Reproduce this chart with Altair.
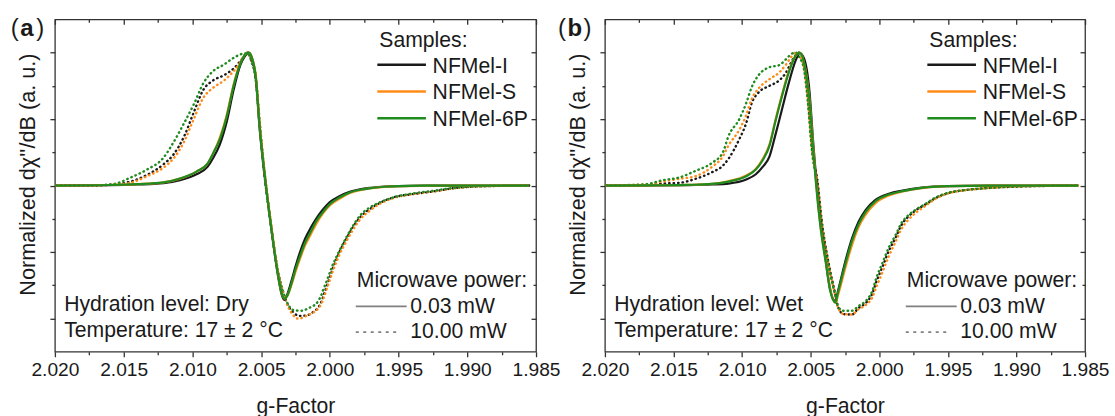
import altair as alt
import pandas as pd

FONT = "Liberation Sans"
TEXT_COLOR = "#1a1a1a"
FRAME_COLOR = "#333333"

SAMPLES = ["NFMel-I", "NFMel-S", "NFMel-6P"]
SAMPLE_COLORS = ["#1a1a1a", "#ff8c1a", "#1f8c1f"]
POWERS = ["0.03 mW", "10.00 mW"]

X_TICKS = [2.020, 2.0175, 2.015, 2.0125, 2.010, 2.0075, 2.005, 2.0025, 2.000,
           1.9975, 1.995, 1.9925, 1.990, 1.9875, 1.985]
Y_TICKS = [-1.0, -0.75, -0.5, -0.25, 0.0, 0.25, 0.5, 0.75, 1.0]

# ---------------- Panel (a): Dry ----------------
G_A_SOLID = [2.0199, 2.0160, 2.0140, 2.0121, 2.0109, 2.0097, 2.0089, 2.0085, 2.0080, 2.0075,
             2.0070, 2.0065, 2.0062, 2.0059, 2.0056, 2.0054, 2.0051, 2.0048, 2.0046, 2.0042,
             2.0038, 2.0035, 2.0033, 2.0031, 2.0028, 2.0025, 2.0022, 2.0018, 2.0014, 2.0010,
             2.0005, 2.0000, 1.9993, 1.9985, 1.9978, 1.9970, 1.9960, 1.9950, 1.9930, 1.9900,
             1.9855]
A_SOLID_I = [0, 0.003, 0.008, 0.018, 0.04, 0.085, 0.14, 0.205, 0.31, 0.48,
             0.72, 0.91, 0.97, 1.0, 0.93, 0.82, 0.42, 0.12, -0.05, -0.37,
             -0.66, -0.82, -0.86, -0.82, -0.72, -0.61, -0.51, -0.40, -0.32, -0.25,
             -0.18, -0.125, -0.08, -0.045, -0.028, -0.017, -0.008, -0.004, -0.001, 0,
             0]
A_SOLID_S = [0, 0.004, 0.01, 0.024, 0.052, 0.105, 0.165, 0.24, 0.36, 0.53,
             0.76, 0.93, 0.98, 1.0, 0.94, 0.84, 0.45, 0.15, -0.03, -0.35,
             -0.64, -0.81, -0.85, -0.83, -0.75, -0.65, -0.56, -0.45, -0.37, -0.29,
             -0.21, -0.15, -0.10, -0.055, -0.035, -0.02, -0.01, -0.005, -0.002, 0,
             0]
A_SOLID_6P = [0, 0.004, 0.011, 0.024, 0.053, 0.105, 0.165, 0.24, 0.35, 0.52,
              0.75, 0.92, 0.98, 1.0, 0.94, 0.83, 0.44, 0.14, -0.04, -0.36,
              -0.65, -0.81, -0.85, -0.83, -0.74, -0.63, -0.54, -0.43, -0.35, -0.27,
              -0.20, -0.14, -0.09, -0.05, -0.032, -0.019, -0.009, -0.004, -0.001, 0,
              0]

G_A_DOT = [2.0199, 2.0170, 2.0157, 2.0145, 2.0133, 2.0121, 2.0114, 2.0106, 2.0099, 2.0092,
           2.0085, 2.0077, 2.0070, 2.0064, 2.0060, 2.0057, 2.0054, 2.0051, 2.0048, 2.0045,
           2.0042, 2.0039, 2.0034, 2.0030, 2.0027, 2.0024, 2.0022, 2.0019, 2.0017, 2.0015,
           2.0012, 2.0010, 2.0008, 2.0006, 2.0005, 2.0002, 1.9998, 1.9993, 1.9988, 1.9983,
           1.9978, 1.9971, 1.9964, 1.9954, 1.9940, 1.9925, 1.9910, 1.9890, 1.9855]
A_DOT_I = [0, 0.002, 0.008, 0.03, 0.08, 0.16, 0.23, 0.37, 0.55, 0.72,
           0.79, 0.83, 0.88, 0.95, 1.0, 0.94, 0.82, 0.47, 0.14, -0.12,
           -0.36, -0.57, -0.80, -0.91, -0.95, -0.975, -0.98, -0.98, -0.975, -0.97,
           -0.95, -0.935, -0.91, -0.87, -0.84, -0.75, -0.63, -0.50, -0.40, -0.31,
           -0.24, -0.178, -0.133, -0.09, -0.065, -0.045, -0.02, -0.006, 0]
A_DOT_S = [0, 0.002, 0.006, 0.02, 0.07, 0.135, 0.20, 0.33, 0.50, 0.66,
           0.735, 0.79, 0.86, 0.94, 1.0, 0.95, 0.83, 0.48, 0.15, -0.11,
           -0.35, -0.57, -0.80, -0.92, -0.97, -1.0, -1.0, -0.99, -0.98, -0.97,
           -0.955, -0.94, -0.92, -0.885, -0.86, -0.77, -0.65, -0.52, -0.42, -0.33,
           -0.255, -0.19, -0.14, -0.095, -0.065, -0.045, -0.022, -0.007, 0]
A_DOT_6P = [0, 0.002, 0.012, 0.06, 0.12, 0.21, 0.32, 0.47, 0.61, 0.77,
            0.86, 0.91, 0.96, 0.99, 0.995, 0.93, 0.80, 0.45, 0.12, -0.14,
            -0.37, -0.58, -0.80, -0.90, -0.935, -0.94, -0.942, -0.94, -0.93, -0.92,
            -0.905, -0.89, -0.86, -0.82, -0.79, -0.71, -0.60, -0.49, -0.39, -0.30,
            -0.225, -0.165, -0.128, -0.09, -0.06, -0.04, -0.018, -0.005, 0]

# ---------------- Panel (b): Wet ----------------
G_B_SOLID = [2.0199, 2.0160, 2.0140, 2.0122, 2.0110, 2.0097, 2.0090, 2.0085, 2.0080, 2.0076,
             2.0071, 2.0066, 2.0061, 2.0058, 2.0055, 2.0051, 2.0048, 2.0046, 2.0043, 2.0039,
             2.0036, 2.0032, 2.0030, 2.0025, 2.0020, 2.0015, 2.0010, 2.0003, 1.9993, 1.9983,
             1.9969, 1.9950, 1.9920, 1.9855]
B_SOLID_I = [0, 0.001, 0.003, 0.008, 0.015, 0.045, 0.085, 0.14, 0.22, 0.37,
             0.57, 0.77, 0.94, 0.995, 0.96, 0.72, 0.30, 0.05, -0.26, -0.56,
             -0.77, -0.87, -0.79, -0.58, -0.40, -0.27, -0.185, -0.11, -0.062, -0.038,
             -0.015, -0.004, 0, 0]
B_SOLID_S = [0, 0.002, 0.005, 0.013, 0.032, 0.075, 0.125, 0.20, 0.31, 0.48,
             0.68, 0.86, 0.975, 1.0, 0.93, 0.66, 0.27, 0.02, -0.29, -0.57,
             -0.77, -0.88, -0.82, -0.63, -0.45, -0.31, -0.22, -0.135, -0.075, -0.045,
             -0.019, -0.005, 0, 0]
B_SOLID_6P = [0, 0.002, 0.005, 0.012, 0.03, 0.07, 0.12, 0.19, 0.30, 0.47,
              0.67, 0.85, 0.975, 1.0, 0.93, 0.65, 0.25, 0.0, -0.30, -0.58,
              -0.78, -0.88, -0.80, -0.60, -0.42, -0.29, -0.20, -0.12, -0.068, -0.042,
              -0.017, -0.004, 0, 0]

G_B_DOT = [2.0199, 2.0170, 2.0158, 2.0146, 2.0134, 2.0122, 2.0114, 2.0110, 2.0102, 2.0097,
           2.0093, 2.0088, 2.0080, 2.0073, 2.0068, 2.0064, 2.0061, 2.0058, 2.0055, 2.0052,
           2.0049, 2.0045, 2.0042, 2.0037, 2.0032, 2.0030, 2.0026, 2.0020, 2.0015, 2.0010,
           2.0005, 2.0002, 1.9998, 1.9993, 1.9988, 1.9984, 1.9979, 1.9974, 1.9966, 1.9959,
           1.9950, 1.9937, 1.9925, 1.9900, 1.9855]
B_DOT_I = [0, 0.004, 0.015, 0.02, 0.05, 0.10, 0.15, 0.20, 0.35, 0.47,
           0.62, 0.70, 0.75, 0.79, 0.85, 0.93, 0.98, 1.0, 0.92, 0.66,
           0.28, 0.03, -0.26, -0.58, -0.82, -0.915, -0.967, -0.97, -0.92, -0.885,
           -0.81, -0.72, -0.62, -0.49, -0.39, -0.30, -0.235, -0.19, -0.14, -0.095,
           -0.058, -0.034, -0.022, -0.008, 0]
B_DOT_S = [0, 0.008, 0.03, 0.05, 0.07, 0.14, 0.22, 0.30, 0.42, 0.53,
           0.65, 0.73, 0.80, 0.85, 0.91, 0.97, 1.0, 0.97, 0.89, 0.64,
           0.27, 0.02, -0.27, -0.59, -0.83, -0.92, -0.967, -0.97, -0.93, -0.90,
           -0.84, -0.76, -0.66, -0.53, -0.42, -0.33, -0.26, -0.21, -0.15, -0.10,
           -0.06, -0.035, -0.023, -0.008, 0]
B_DOT_6P = [0, 0.01, 0.04, 0.06, 0.11, 0.17, 0.25, 0.37, 0.50, 0.62,
            0.74, 0.83, 0.89, 0.905, 0.95, 0.99, 1.0, 0.96, 0.88, 0.62,
            0.25, 0.0, -0.28, -0.60, -0.83, -0.91, -0.942, -0.942, -0.905, -0.87,
            -0.79, -0.69, -0.59, -0.465, -0.37, -0.285, -0.225, -0.185, -0.135, -0.09,
            -0.055, -0.033, -0.022, -0.008, 0]

rows = []


def add(panel, sample, power, gs, vals):
    assert len(gs) == len(vals), (panel, sample, power, len(gs), len(vals))
    for g, v in zip(gs, vals):
        rows.append({"panel": panel, "sample": sample, "power": power, "g": g, "y": v})


for name, vals in zip(SAMPLES, [A_SOLID_I, A_SOLID_S, A_SOLID_6P]):
    add("a", name, POWERS[0], G_A_SOLID, vals)
for name, vals in zip(SAMPLES, [A_DOT_I, A_DOT_S, A_DOT_6P]):
    add("a", name, POWERS[1], G_A_DOT, vals)
for name, vals in zip(SAMPLES, [B_SOLID_I, B_SOLID_S, B_SOLID_6P]):
    add("b", name, POWERS[0], G_B_SOLID, vals)
for name, vals in zip(SAMPLES, [B_DOT_I, B_DOT_S, B_DOT_6P]):
    add("b", name, POWERS[1], G_B_DOT, vals)

DF = pd.DataFrame(rows)
ONE = pd.DataFrame({"k": [0]})

H = 333
TXT_SIZE = 21.2
X_MAJOR = "abs(datum.value*200 - round(datum.value*200)) < 0.01"
Y_MAJOR = "abs(datum.value*2 - round(datum.value*2)) < 0.01"
X_TICK_SIZE = {"condition": {"test": X_MAJOR, "value": 5}, "value": 3}
Y_TICK_SIZE = {"condition": {"test": Y_MAJOR, "value": 5}, "value": 3}


def txt(s, x, y, size=TXT_SIZE, weight="normal"):
    return alt.Chart(ONE).mark_text(
        text=s, font=FONT, fontSize=size, fontWeight=weight, align="left",
        baseline="alphabetic", color=TEXT_COLOR,
    ).encode(x=alt.value(x), y=alt.value(y))


def seg(x1, x2, y, color, width=2.5, dash=None):
    kw = dict(color=color, strokeWidth=width)
    if dash is not None:
        kw["strokeDash"] = dash
    return alt.Chart(ONE).mark_rule(**kw).encode(
        x=alt.value(x1), x2=alt.value(x2), y=alt.value(y))


def panel_chart(panel, letter, letter_x, hydration, W):
    data = DF[DF["panel"] == panel]
    xs = alt.Scale(domain=[1.985, 2.020], reverse=True, nice=False, zero=False)
    ys = alt.Scale(domain=[-1.25, 1.25], nice=False, zero=False)
    color = alt.Color("sample:N", scale=alt.Scale(domain=SAMPLES, range=SAMPLE_COLORS),
                      legend=None)

    x_axis = alt.Axis(
        orient="bottom", values=X_TICKS, tickSize=X_TICK_SIZE, domain=False, grid=False,
        labelExpr=f"{X_MAJOR} ? format(datum.value, '.3f') : ''",
        labelOverlap=False, labelFlush=False,
        labelFont=FONT, labelFontSize=19.2, labelColor=TEXT_COLOR, labelPadding=4,
        title="g-Factor", titleFont=FONT, titleFontSize=21.2, titleFontWeight="normal",
        titleColor=TEXT_COLOR, titleY=61, titleBaseline="alphabetic",
    )
    y_axis = alt.Axis(
        orient="left", values=Y_TICKS, tickSize=Y_TICK_SIZE, domain=False, grid=False,
        labels=False,
        title="Normalized dχ''/dB (a. u.)", titleFont=FONT, titleFontSize=21.7,
        titleFontWeight="normal", titleColor=TEXT_COLOR, titleAngle=270,
        titleX=-27, titleY=155, titleAlign="center", titleBaseline="middle",
    )
    x_mirror = alt.Axis(orient="bottom", offset=-H, values=X_TICKS, tickSize=X_TICK_SIZE,
                        domain=False, grid=False, labels=False, title=None)
    y_mirror = alt.Axis(orient="left", offset=-W, values=Y_TICKS, tickSize=Y_TICK_SIZE,
                        domain=False, grid=False, labels=False, title=None)

    dotted = alt.Chart(data).transform_filter(alt.datum.power == POWERS[1]).mark_line(
        strokeWidth=2.4, strokeDash=[0.5, 4], strokeCap="round", interpolate="monotone",
    ).encode(
        x=alt.X("g:Q", scale=xs, axis=x_axis),
        y=alt.Y("y:Q", scale=ys, axis=y_axis),
        color=color,
    )
    solid = alt.Chart(data).transform_filter(alt.datum.power == POWERS[0]).mark_line(
        strokeWidth=2.2, interpolate="monotone",
    ).encode(
        x=alt.X("g:Q", scale=xs, axis=None),
        y=alt.Y("y:Q", scale=ys, axis=None),
        color=color,
    )
    mirror = alt.Chart(pd.DataFrame({"g": [2.0], "y": [0.0]})).mark_point(opacity=0).encode(
        x=alt.X("g:Q", scale=xs, axis=x_mirror),
        y=alt.Y("y:Q", scale=ys, axis=y_mirror),
    )

    extras = [
        txt("(", letter_x, 16.6, size=24),
        txt(letter, letter_x + 9.5, 16.6, size=24, weight="bold"),
        txt(")", letter_x + 25.5, 16.6, size=24),
        txt("Samples:", 325, 27.6),
    ]
    row_y = [45.6, 72.3, 99.0]
    for name, col, yy in zip(SAMPLES, SAMPLE_COLORS, row_y):
        extras.append(seg(323, 371.7, yy, col, width=2.5))
        extras.append(txt(name, 378.4, yy + 7.7))
    extras += [
        txt("Microwave power:", 302.4, 268.3),
        seg(301.4, 352.4, 287.6, "#808080", width=1.8),
        txt(POWERS[0], 356, 294.0),
        seg(301.4, 345.7, 313.3, "#808080", width=1.8, dash=[3, 4.5]),
        txt(POWERS[1], 356, 319.3),
        txt(f"Hydration level: {hydration}", 9.3, 292.3),
        txt("Temperature: 17 ± 2 °C", 9.3, 318.3),
    ]

    return alt.layer(dotted, solid, mirror, *extras).resolve_axis(
        x="independent", y="independent").properties(width=W, height=H)


pa = panel_chart("a", "a", -44.3, "Dry", 482)
pb = panel_chart("b", "b", -47.0, "Wet", 481)

chart = alt.hconcat(pa, pb, spacing=69, bounds="flush").properties(
    padding={"left": 10, "top": 15, "right": 5, "bottom": 0},
    background="white",
).configure_view(stroke=FRAME_COLOR, strokeWidth=1.3).configure_axis(
    tickColor=FRAME_COLOR, tickWidth=1.3,
)

chart.save("out.html", embed_options={"renderer": "svg", "actions": False})
